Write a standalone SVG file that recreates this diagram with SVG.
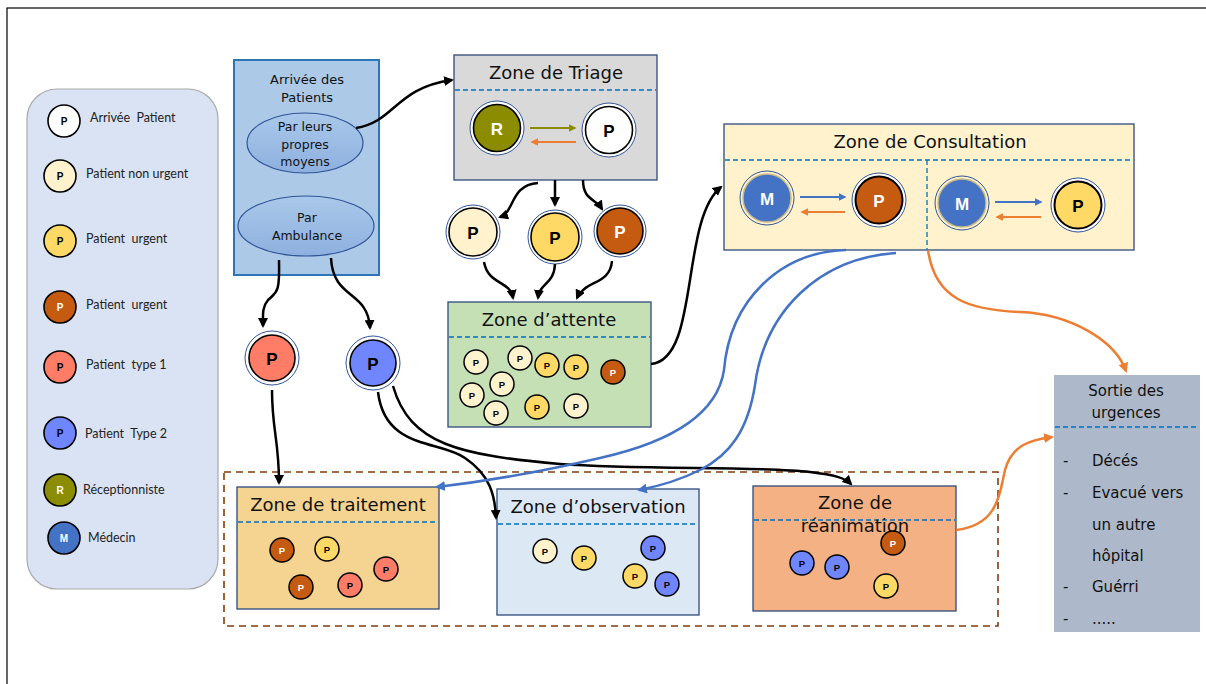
<svg xmlns="http://www.w3.org/2000/svg" width="1206" height="684" viewBox="0 0 1206 684">
<style>
.ring{fill:#fff;stroke:#2f5597;stroke-width:1}
.ci{stroke:#000;stroke-width:1.6}
.cs{stroke:#000;stroke-width:1.5}
.lt{font-family:Lato,"Liberation Sans",sans-serif;font-size:12.5px;fill:#222}
.pl{font-family:"Liberation Sans",Arial,sans-serif;font-weight:bold;text-anchor:middle;dominant-baseline:central}
.zt{font-family:"DejaVu Sans","Liberation Sans",sans-serif;fill:#111;text-anchor:middle}
.dash{stroke:#0070c0;stroke-width:1.3;stroke-dasharray:5,3;fill:none}
.k{fill:none;stroke:#000;stroke-width:2.5}
.b{fill:none;stroke:#4472c4;stroke-width:2.5}
.o{fill:none;stroke:#ed7d31;stroke-width:2.5}
.zone{stroke:#2f4a7a;stroke-width:1.3}
.cream{fill:#fff2cc}.yel{fill:#ffd966}.brn{fill:#c55a11}.sal{fill:#ff7c67}.pur{fill:#6f86ff}.olv{fill:#8c8c00}.med{fill:#4472c4}
</style>
<defs>
<marker id="ak" viewBox="0 0 10 10" refX="8" refY="5" markerWidth="4" markerHeight="4" orient="auto" markerUnits="strokeWidth"><path d="M0,0L10,5L0,10z" fill="#000"/></marker>
<marker id="ab" viewBox="0 0 10 10" refX="8" refY="5" markerWidth="4" markerHeight="4" orient="auto" markerUnits="strokeWidth"><path d="M0,0L10,5L0,10z" fill="#4472c4"/></marker>
<marker id="ao" viewBox="0 0 10 10" refX="8" refY="5" markerWidth="4" markerHeight="4" orient="auto" markerUnits="strokeWidth"><path d="M0,0L10,5L0,10z" fill="#ed7d31"/></marker>
<marker id="av" viewBox="0 0 10 10" refX="8" refY="5" markerWidth="4" markerHeight="4" orient="auto" markerUnits="strokeWidth"><path d="M0,0L10,5L0,10z" fill="#8c8c00"/></marker>
<linearGradient id="eg" x1="0" y1="0" x2="0" y2="1"><stop offset="0" stop-color="#a9c8ea"/><stop offset="1" stop-color="#8eb0df"/></linearGradient>
</defs>
<rect x="0" y="0" width="1206" height="684" fill="#fff"/>
<rect x="7" y="8" width="1210" height="690" fill="none" stroke="#000" stroke-width="1.2"/>

<g id="legend">
<rect x="27" y="89" width="191" height="500" rx="30" fill="#dae3f3" stroke="#aaa" stroke-width="1.2"/>
<circle cx="64" cy="121" r="16" fill="#fff" class="ci"/><text class="pl" x="64" y="121" font-size="10">P</text><text class="lt" x="90" y="122">Arrivée&#160; Patient</text>
<circle cx="60" cy="176" r="16" class="ci cream"/><text class="pl" x="60" y="176" font-size="10">P</text><text class="lt" x="86" y="178">Patient non urgent</text>
<circle cx="60" cy="241" r="16" class="ci yel"/><text class="pl" x="60" y="241" font-size="10">P</text><text class="lt" x="86" y="243">Patient&#160; urgent</text>
<circle cx="60" cy="307" r="16" class="ci brn"/><text class="pl" x="60" y="307" font-size="10" fill="#fff">P</text><text class="lt" x="86" y="309">Patient&#160; urgent</text>
<circle cx="60" cy="367" r="16" class="ci sal"/><text class="pl" x="60" y="367" font-size="10">P</text><text class="lt" x="86" y="369">Patient&#160; type 1</text>
<circle cx="60" cy="433" r="16" class="ci pur"/><text class="pl" x="60" y="433" font-size="10">P</text><text class="lt" x="85" y="438">Patient&#160; Type 2</text>
<circle cx="60" cy="490" r="16" class="ci olv"/><text class="pl" x="60" y="490" font-size="10" fill="#fff">R</text><text class="lt" x="83" y="494">Réceptionniste</text>
<circle cx="64" cy="538" r="16" class="ci med"/><text class="pl" x="64" y="538" font-size="10" fill="#fff">M</text><text class="lt" x="88" y="542">Médecin</text>
</g>

<g id="arrivee">
<rect x="234" y="60" width="145" height="215" fill="#acc9e8" stroke="#2e75b6" stroke-width="2"/>
<text class="zt" x="307" y="84" font-size="13">Arrivée des</text>
<text class="zt" x="307" y="102" font-size="13">Patients</text>
<ellipse cx="305" cy="143" rx="58" ry="30" fill="url(#eg)" stroke="#2f5597" stroke-width="1.2"/>
<text class="zt" x="305" y="131" font-size="12.5">Par leurs</text>
<text class="zt" x="305" y="149" font-size="12.5">propres</text>
<text class="zt" x="305" y="166" font-size="12.5">moyens</text>
<ellipse cx="306" cy="226" rx="68" ry="30" fill="url(#eg)" stroke="#2f5597" stroke-width="1.2"/>
<text class="zt" x="307" y="222" font-size="12.5">Par</text>
<text class="zt" x="307" y="240" font-size="12.5">Ambulance</text>
</g>

<g id="triage">
<rect x="454" y="55" width="203" height="125" fill="#d9d9d9" class="zone"/>
<text class="zt" x="556" y="79" font-size="18">Zone de Triage</text>
<line x1="455" y1="90" x2="656" y2="90" class="dash"/>
<circle cx="497" cy="128" r="27" class="ring"/><circle cx="497" cy="128" r="23.5" class="ci olv"/><text class="pl" x="497" y="129" font-size="17" fill="#fff">R</text>
<circle cx="609" cy="130" r="27" class="ring"/><circle cx="609" cy="130" r="23.5" fill="#fff" class="ci"/><text class="pl" x="609" y="131" font-size="17">P</text>
<line x1="530" y1="128" x2="575" y2="128" stroke="#8c8c00" stroke-width="2" marker-end="url(#av)"/>
<line x1="576" y1="142" x2="532" y2="142" stroke="#ed7d31" stroke-width="2" marker-end="url(#ao)"/>
</g>

<g id="p-nonurgent"><circle cx="473" cy="232" r="27" class="ring"/><circle cx="473" cy="232" r="24" class="ci cream"/><text class="pl" x="473" y="233" font-size="17">P</text></g>
<g id="p-urgent"><circle cx="555" cy="237" r="27" class="ring"/><circle cx="555" cy="237" r="24" class="ci yel"/><text class="pl" x="555" y="238" font-size="17">P</text></g>
<g id="p-urgent2"><circle cx="620" cy="231" r="26" class="ring"/><circle cx="620" cy="231" r="23" class="ci brn"/><text class="pl" x="620" y="232" font-size="17" fill="#fff">P</text></g>

<g id="attente">
<rect x="448" y="302" width="203" height="125" fill="#c5e0b4" class="zone"/>
<text class="zt" x="549" y="326" font-size="18">Zone d’attente</text>
<line x1="449" y1="337" x2="650" y2="337" class="dash"/>
<g font-size="9.5">
<circle cx="476" cy="362" r="12" class="cs cream"/><text class="pl" x="476" y="362">P</text>
<circle cx="520" cy="358" r="12" class="cs cream"/><text class="pl" x="520" y="358">P</text>
<circle cx="547" cy="365" r="12" class="cs yel"/><text class="pl" x="547" y="365">P</text>
<circle cx="576" cy="367" r="12" class="cs yel"/><text class="pl" x="576" y="367">P</text>
<circle cx="613" cy="372" r="12" class="cs brn"/><text class="pl" x="613" y="372" fill="#fff">P</text>
<circle cx="502" cy="384" r="12" class="cs cream"/><text class="pl" x="502" y="384">P</text>
<circle cx="472" cy="395" r="12" class="cs cream"/><text class="pl" x="472" y="395">P</text>
<circle cx="496" cy="413" r="12" class="cs cream"/><text class="pl" x="496" y="413">P</text>
<circle cx="537" cy="407" r="12" class="cs yel"/><text class="pl" x="537" y="407">P</text>
<circle cx="576" cy="406" r="12" class="cs cream"/><text class="pl" x="576" y="406">P</text>
</g>
</g>

<g id="consultation">
<rect x="724" y="124" width="410" height="126" fill="#fff2cc" class="zone"/>
<text class="zt" x="930" y="148" font-size="18">Zone de Consultation</text>
<line x1="725" y1="160" x2="1133" y2="160" class="dash"/>
<line x1="927" y1="160" x2="927" y2="250" class="dash"/>
<circle cx="767" cy="198" r="27" fill="#fff2cc" stroke="#2f5597" stroke-width="1"/><circle cx="767" cy="198" r="24" class="med" stroke="#c9b98a" stroke-width="1.5"/><text class="pl" x="767" y="199" font-size="17" fill="#fff">M</text>
<circle cx="879" cy="200" r="27" class="ring"/><circle cx="879" cy="200" r="23.5" class="brn" stroke="#000" stroke-width="2"/><text class="pl" x="879" y="201" font-size="17" fill="#fff">P</text>
<circle cx="962" cy="203" r="27" fill="#fff2cc" stroke="#2f5597" stroke-width="1"/><circle cx="962" cy="203" r="24" class="med" stroke="#c9b98a" stroke-width="1.5"/><text class="pl" x="962" y="204" font-size="17" fill="#fff">M</text>
<circle cx="1078" cy="205" r="27" class="ring"/><circle cx="1078" cy="205" r="23.5" class="yel" stroke="#000" stroke-width="2"/><text class="pl" x="1078" y="206" font-size="17">P</text>
<line x1="800" y1="197" x2="845" y2="197" stroke="#4472c4" stroke-width="2" marker-end="url(#ab)"/>
<line x1="845" y1="212" x2="802" y2="212" stroke="#ed7d31" stroke-width="2" marker-end="url(#ao)"/>
<line x1="995" y1="202" x2="1041" y2="202" stroke="#4472c4" stroke-width="2" marker-end="url(#ab)"/>
<line x1="1041" y1="217" x2="997" y2="217" stroke="#ed7d31" stroke-width="2" marker-end="url(#ao)"/>
</g>

<g id="p-type1"><circle cx="272" cy="358" r="27" class="ring"/><circle cx="272" cy="358" r="23" class="ci sal"/><text class="pl" x="272" y="359" font-size="17">P</text></g>
<g id="p-type2"><circle cx="373" cy="363" r="27" class="ring"/><circle cx="373" cy="363" r="23" class="ci pur"/><text class="pl" x="373" y="364" font-size="17">P</text></g>

<g id="group-soins">
<rect x="224" y="472" width="774" height="154" fill="none" stroke="#843c0c" stroke-width="1.6" stroke-dasharray="7,5"/>
</g>

<g id="traitement">
<rect x="237" y="487" width="202" height="122" fill="#f5d491" class="zone"/>
<text class="zt" x="338" y="511" font-size="18">Zone de traitement</text>
<line x1="238" y1="522" x2="438" y2="522" class="dash"/>
<g font-size="9.5">
<circle cx="282" cy="550" r="12" class="cs brn"/><text class="pl" x="282" y="550" fill="#fff">P</text>
<circle cx="327" cy="549" r="12" class="cs yel"/><text class="pl" x="327" y="549">P</text>
<circle cx="386" cy="569" r="12" class="cs sal"/><text class="pl" x="386" y="569">P</text>
<circle cx="301" cy="587" r="12" class="cs brn"/><text class="pl" x="301" y="587" fill="#fff">P</text>
<circle cx="350" cy="585" r="12" class="cs sal"/><text class="pl" x="350" y="585">P</text>
</g>
</g>

<g id="observation">
<rect x="497" y="489" width="202" height="126" fill="#dde8f5" class="zone"/>
<text class="zt" x="598" y="513" font-size="18">Zone d’observation</text>
<line x1="498" y1="524" x2="698" y2="524" class="dash"/>
<g font-size="9.5">
<circle cx="545" cy="551" r="12" class="cs cream"/><text class="pl" x="545" y="551">P</text>
<circle cx="584" cy="558" r="12" class="cs yel"/><text class="pl" x="584" y="558">P</text>
<circle cx="653" cy="548" r="12" class="cs pur"/><text class="pl" x="653" y="548">P</text>
<circle cx="635" cy="576" r="12" class="cs yel"/><text class="pl" x="635" y="576">P</text>
<circle cx="667" cy="584" r="12" class="cs pur"/><text class="pl" x="667" y="584">P</text>
</g>
</g>

<g id="reanimation">
<rect x="753" y="486" width="203" height="125" fill="#f4b183" class="zone"/>
<text class="zt" x="855" y="509" font-size="18">Zone de</text>
<line x1="754" y1="520" x2="955" y2="520" class="dash"/>
<text class="zt" x="855" y="532" font-size="18">réanimation</text>
<g font-size="9.5">
<circle cx="893" cy="543" r="12" class="cs brn"/><text class="pl" x="893" y="543" fill="#fff">P</text>
<circle cx="802" cy="563" r="12" class="cs pur"/><text class="pl" x="802" y="563">P</text>
<circle cx="837" cy="567" r="12" class="cs pur"/><text class="pl" x="837" y="567">P</text>
<circle cx="886" cy="586" r="12" class="cs yel"/><text class="pl" x="886" y="586">P</text>
</g>
</g>

<g id="sortie">
<rect x="1054" y="375" width="146" height="257" fill="#adb9ca"/>
<text class="zt" x="1126" y="396" font-size="15">Sortie des</text>
<text class="zt" x="1126" y="418" font-size="15">urgences</text>
<line x1="1055" y1="427" x2="1199" y2="427" class="dash"/>
<g font-family="'DejaVu Sans','Liberation Sans',sans-serif" font-size="15" fill="#111">
<text x="1063" y="466">-</text><text x="1092" y="466">Décés</text>
<text x="1063" y="498">-</text><text x="1092" y="498">Evacué vers</text>
<text x="1092" y="530">un autre</text>
<text x="1092" y="561">hôpital</text>
<text x="1063" y="592">-</text><text x="1092" y="592">Guérri</text>
<text x="1063" y="624">-</text><text x="1092" y="624">.....</text>
</g>
</g>

<g id="connectors">
<path class="k" d="M356,128 C395,122 395,88 452,80" marker-end="url(#ak)"/>
<path class="k" d="M279,260 C280,295 276,292 268,300 C262,307 263,315 263,326" marker-end="url(#ak)"/>
<path class="k" d="M331,258 C333,300 368,290 370,328" marker-end="url(#ak)"/>
<path class="k" d="M538,183 C510,185 515,212 500,217" marker-end="url(#ak)"/>
<path class="k" d="M555,180 L555,205" marker-end="url(#ak)"/>
<path class="k" d="M583,180 C583,200 595,198 602,209" marker-end="url(#ak)"/>
<path class="k" d="M484,262 C488,285 510,280 513,298" marker-end="url(#ak)"/>
<path class="k" d="M555,264 C554,285 540,282 538,298" marker-end="url(#ak)"/>
<path class="k" d="M612,261 C610,285 585,280 577,298" marker-end="url(#ak)"/>
<path class="k" d="M651,364 C700,360 680,220 721,187" marker-end="url(#ak)"/>
<path class="k" d="M272,390 C272,430 279,440 279,483" marker-end="url(#ak)"/>
<path class="k" d="M378,392 C385,450 440,440 465,458 C490,475 495,495 496,518" marker-end="url(#ak)"/>
<path class="k" d="M393,386 C410,445 460,455 560,464 C640,470 760,466 810,472 C835,475 845,478 851,484" marker-end="url(#ak)"/>
<path class="b" d="M846,250 C780,252 730,300 724,370 C718,410 680,440 600,458 C540,472 480,482 437,487" marker-end="url(#ab)"/>
<path class="b" d="M896,253 C820,258 765,310 755,385 C748,430 730,455 700,470 C680,480 660,486 639,490" marker-end="url(#ab)"/>
<path class="o" d="M928,250 C935,300 970,310 1020,312 C1070,314 1115,340 1126,371" marker-end="url(#ao)"/>
<path class="o" d="M956,530 C1000,525 1000,490 1005,470 C1012,445 1030,440 1052,437" marker-end="url(#ao)"/>
</g>
</svg>
